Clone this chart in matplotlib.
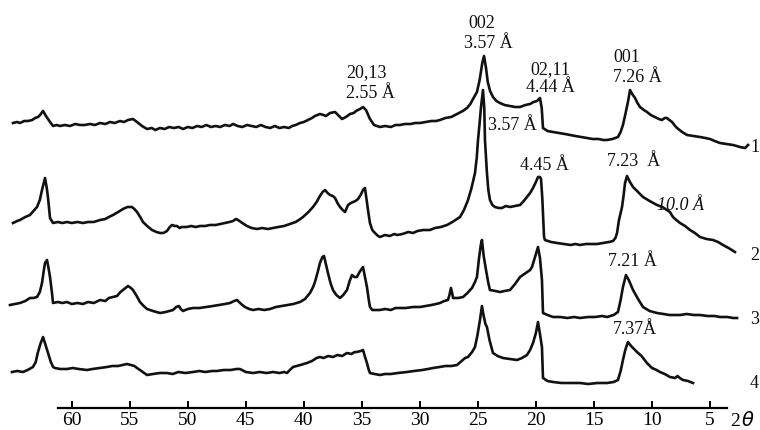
import matplotlib
matplotlib.use("Agg")
import matplotlib.pyplot as plt

# XRD patterns: 2theta (deg) and intensity (arbitrary units, traces already offset)
tt1 = [65.06, 64.7, 64.46, 64.1, 63.77, 63.4, 63.16, 62.9, 62.73, 62.47, 62.22, 61.87, 61.61, 61.3,
       61.01, 60.6, 60.15, 59.7, 59.29, 58.9, 58.42, 58.0, 57.56, 57.1, 56.70, 56.3, 55.84, 55.5,
       55.15, 54.72, 54.37, 53.94, 53.51, 53.1, 52.8, 52.4, 52.0, 51.6, 51.2, 50.8, 50.4, 50.0,
       49.6, 49.2, 48.8, 48.4, 48.0, 47.6, 47.2, 46.8, 46.4, 46.1, 45.7, 45.3, 44.9, 44.5, 44.1,
       43.7, 43.3, 42.9, 42.5, 42.1, 41.7, 41.3, 41.0, 40.7, 40.33, 40.0, 39.64, 39.3, 39.04,
       38.61, 38.3, 38.09, 37.74, 37.31, 37.05, 36.71, 36.37, 36.02, 35.7, 35.50, 35.16, 34.90,
       34.64, 34.30, 33.95, 33.44, 33.0, 32.5, 32.1, 31.71, 31.3, 30.8, 30.4, 29.99, 29.5, 29.0,
       28.6, 28.27, 27.8, 27.3, 26.80, 26.3, 25.94, 25.65, 25.42, 25.08, 24.85, 24.62, 24.47,
       24.3, 24.15, 23.95, 23.70, 23.4, 23.10, 22.7, 22.23, 21.8, 21.37, 20.9, 20.51, 20.2, 19.91,
       19.65, 19.5, 19.39, 19.0, 18.53, 18.0, 17.5, 17.06, 16.6, 16.1, 15.60, 15.1, 14.6, 14.2,
       13.87, 13.4, 12.93, 12.70, 12.50, 12.27, 12.07, 11.89, 11.7, 11.46, 11.25, 11.03, 10.7,
       10.43, 10.1, 9.74, 9.4, 9.14, 8.9, 8.71, 8.5, 8.27, 8.0, 7.84, 7.4, 6.98, 6.4, 5.86, 5.4,
       5.00, 4.6, 4.14, 3.6, 3.02, 2.7, 2.42, 1.98, 1.72]
i1 = [285, 286, 285, 287, 287, 288, 290, 291, 293, 297, 292, 286, 282, 283,
      282, 283, 282, 284, 283, 283, 284, 283, 285, 284, 286, 285, 287, 286,
      288, 289, 286, 282, 279, 280, 278, 280, 279, 281, 280, 281, 279, 281,
      280, 282, 281, 283, 281, 282, 281, 283, 282, 284, 282, 281, 283, 282, 281,
      283, 281, 280, 282, 280, 281, 280, 282, 283, 285, 286, 288, 290, 292,
      294, 293, 292, 295, 296, 293, 289, 291, 294, 295, 297, 299, 301,
      298, 289, 283, 281, 282, 281, 283, 283, 284, 284, 285, 285, 286, 287,
      287, 288, 290, 291, 294, 297, 300, 304, 309, 316, 328, 345, 352,
      340, 326, 317, 311, 307, 305, 303, 302, 301, 301, 303, 304, 306, 307,
      310, 300, 280, 277, 276, 275, 274, 273, 272, 271, 270, 269, 269, 268,
      268, 269, 271, 276, 283, 295, 306, 318, 314, 310, 305, 301, 298,
      296, 293, 291, 289, 288, 290, 290, 288, 286, 282, 280, 276, 273, 272, 271, 270,
      269, 267, 265, 264, 263, 262, 261, 260, 263]

tt2 = [65.06, 64.7, 64.46, 64.0, 63.60, 63.3, 62.99, 62.75, 62.56, 62.30, 62.15, 62.04, 61.87,
       61.61, 61.2, 60.8, 60.41, 60.0, 59.5, 59.03, 58.6, 58.1, 57.56, 57.1, 56.8, 56.44, 56.0,
       55.58, 55.2, 54.81, 54.6, 54.37, 54.1, 53.86, 53.5, 53.08, 52.7, 52.39, 52.1, 51.79, 51.55,
       51.36, 51.1, 50.93, 50.7, 50.50, 50.1, 49.7, 49.3, 48.95, 48.5, 48.1, 47.6, 47.22, 46.8,
       46.4, 46.10, 45.85, 45.67, 45.3, 44.90, 44.5, 44.03, 43.6, 43.1, 42.66, 42.2, 41.7, 41.19,
       40.7, 40.3, 40.07, 39.6, 39.21, 38.9, 38.61, 38.38, 38.17, 37.95, 37.74, 37.5, 37.31, 37.1,
       36.88, 36.65, 36.45, 36.3, 36.19, 35.95, 35.76, 35.55, 35.33, 35.1, 34.90, 34.73, 34.55,
       34.47, 34.30, 34.1, 33.87, 33.6, 33.44, 33.0, 32.6, 32.2, 31.97, 31.5, 31.0, 30.59, 30.2,
       29.7, 29.13, 28.7, 28.2, 27.66, 27.2, 26.8, 26.54, 26.2, 25.85, 25.55, 25.25, 25.1, 24.99,
       24.85, 24.73, 24.56, 24.45, 24.39, 24.30, 24.22, 24.10, 23.96, 23.75, 23.53, 23.2, 22.92,
       22.6, 22.23, 21.8, 21.37, 21.05, 20.77, 20.5, 20.25, 20.0, 19.82, 19.65, 19.56, 19.45,
       19.39, 19.30, 19.22, 18.7, 18.18, 17.6, 17.0, 16.6, 16.20, 15.7, 15.2, 14.74, 14.2, 13.7,
       13.36, 13.15, 13.01, 12.84, 12.70, 12.58, 12.45, 12.32, 12.15, 11.9, 11.63, 11.2, 10.77,
       10.2, 9.57, 9.1, 8.71, 8.45, 8.19, 7.9, 7.58, 7.15, 6.72, 6.3, 5.86, 5.3, 4.74, 4.3, 3.88,
       3.4, 2.85]
i2 = [185, 187, 188, 191, 193, 197, 201, 208, 218, 230, 220, 210, 190,
      185, 186, 185, 186, 185, 186, 185, 186, 186, 188, 189, 191, 193, 196,
      199, 201, 201, 199, 196, 191, 186, 182, 178, 176, 175, 175, 177, 181,
      183, 182, 182, 180, 181, 181, 182, 181, 182, 182, 183, 183, 184, 185,
      186, 187, 189, 188, 185, 182, 180, 179, 180, 179, 180, 181, 182, 184,
      186, 189, 191, 196, 201, 206, 212, 216, 218, 215, 213, 212, 210, 205,
      201, 198, 196, 200, 203, 205, 206, 207, 209, 213, 218, 220, 205,
      198, 185, 178, 175, 172, 171, 173, 172, 174, 173, 174, 176, 175, 177,
      178, 178, 180, 181, 183, 186, 189, 191, 198, 208, 220, 235, 250, 268,
      285, 301, 318, 300, 268, 250, 235, 218, 208, 203, 201, 200, 200,
      202, 201, 202, 203, 207, 211, 215, 220, 226, 231, 231, 229, 210,
      195, 171, 168, 166, 165, 164, 163, 164, 163, 164, 164, 164, 165, 166,
      167, 170, 175, 188, 195, 201, 212, 225, 232, 226, 221, 216, 211,
      207, 203, 201, 198, 196, 191, 188, 185, 182, 178, 175, 171, 169, 168, 166, 163,
      160, 156]

tt3 = [65.32, 64.9, 64.46, 64.0, 63.60, 63.3, 62.99, 62.75, 62.56, 62.40, 62.30, 62.13, 62.0,
       61.87, 61.7, 61.61, 61.2, 60.8, 60.41, 60.0, 59.5, 59.03, 58.6, 58.1, 57.56, 57.1, 56.8,
       56.44, 56.1, 55.8, 55.58, 55.15, 54.9, 54.72, 54.4, 54.12, 53.8, 53.51, 53.0, 52.39, 51.9,
       51.27, 51.0, 50.76, 50.6, 50.41, 50.0, 49.55, 49.0, 48.4, 47.83, 47.3, 46.8, 46.36, 46.0,
       45.76, 45.4, 45.07, 44.7, 44.38, 43.9, 43.4, 42.91, 42.4, 41.9, 41.45, 40.9, 40.33, 39.9,
       39.47, 39.2, 39.04, 38.8, 38.61, 38.4, 38.26, 38.1, 37.92, 37.7, 37.49, 37.2, 36.88, 36.6,
       36.28, 36.05, 35.85, 35.65, 35.42, 35.2, 34.90, 34.75, 34.56, 34.4, 34.30, 34.1, 33.87,
       33.44, 33.0, 32.5, 32.1, 31.71, 31.2, 30.6, 29.99, 29.5, 29.0, 28.6, 28.27, 27.9, 27.58,
       27.45, 27.32, 27.2, 27.14, 26.7, 26.28, 25.9, 25.51, 25.25, 25.08, 24.9, 24.75, 24.65,
       24.5, 24.30, 24.1, 23.96, 23.5, 23.10, 22.7, 22.23, 21.8, 21.37, 21.0, 20.77, 20.5, 20.34,
       20.1, 19.82, 19.65, 19.48, 19.39, 19.0, 18.53, 17.9, 17.3, 16.7, 16.20, 15.5, 14.9, 14.3,
       13.87, 13.3, 12.93, 12.70, 12.50, 12.35, 12.24, 12.0, 11.63, 11.2, 10.77, 10.2, 9.57, 9.0,
       8.5, 7.58, 7.0, 6.4, 5.86, 5.2, 4.6, 4.14, 3.5, 3.0, 2.67]
i3 = [103, 104, 105, 107, 110, 110, 111, 116, 125, 138, 145, 148, 140,
      131, 115, 105, 106, 105, 106, 104, 105, 104, 106, 105, 108, 107, 110,
      111, 112, 116, 118, 122, 120, 118, 112, 106, 102, 99, 97, 95, 96,
      98, 101, 102, 99, 97, 99, 100, 100, 101, 102, 103, 104, 105, 107,
      108, 104, 101, 99, 98, 99, 98, 99, 101, 102, 103, 104, 106, 109,
      115, 121, 126, 136, 145, 151, 152, 144, 135, 125, 118, 113, 110, 113,
      118, 127, 133, 131, 131, 136, 141, 132, 121, 108, 101, 98, 98,
      98, 99, 98, 100, 100, 100, 101, 101, 102, 103, 104, 105, 107, 108,
      113, 120, 114, 110, 110, 111, 115, 120, 126, 131, 150, 163, 168,
      152, 138, 125, 118, 117, 116, 117, 118, 124, 131, 134, 136, 138, 141,
      150, 161, 150, 128, 95, 93, 91, 91, 90, 91, 90, 91, 91, 92,
      91, 93, 96, 108, 121, 128, 133, 128, 118, 109, 101, 97, 95, 94,
      93, 93, 94, 93, 93, 92, 92, 91, 91, 90, 90]

tt4 = [65.15, 64.7, 64.20, 63.8, 63.34, 63.1, 62.93, 62.7, 62.47, 62.25, 62.04, 61.8, 61.6,
       61.44, 61.0, 60.41, 59.9, 59.4, 58.68, 58.2, 57.6, 56.96, 56.5, 56.0, 55.6, 55.24, 54.9,
       54.6, 54.37, 54.0, 53.51, 53.0, 52.4, 51.79, 51.3, 50.8, 50.2, 49.55, 49.0, 48.5, 47.9,
       47.48, 46.9, 46.3, 45.8, 45.50, 45.0, 44.38, 43.8, 43.2, 42.66, 42.1, 41.7, 41.45, 41.2,
       40.93, 40.6, 40.3, 39.73, 39.3, 38.9, 38.61, 38.3, 37.9, 37.49, 37.1, 36.7, 36.28, 35.9,
       35.6, 35.42, 35.1, 34.90, 34.75, 34.56, 34.40, 34.30, 33.9, 33.44, 33.0, 32.5, 31.9, 31.11,
       30.5, 29.8, 29.3, 28.87, 28.3, 27.8, 27.3, 26.80, 26.4, 26.1, 25.85, 25.5, 25.25, 25.05,
       24.82, 24.65, 24.5, 24.35, 24.22, 24.0, 23.70, 23.3, 22.84, 22.2, 21.63, 21.2, 20.77, 20.5,
       20.25, 20.0, 19.82, 19.65, 19.48, 19.39, 19.0, 18.53, 17.8, 17.0, 16.20, 15.5, 14.7, 13.87,
       13.3, 12.93, 12.70, 12.50, 12.30, 12.07, 11.8, 11.29, 10.9, 10.43, 10.0, 9.6, 9.31, 8.9,
       8.45, 8.0, 7.8, 7.6, 7.33, 6.9, 6.46]
i4 = [36, 37, 36, 38, 41, 46, 55, 64, 71, 63, 55, 46, 41,
      40, 39, 39, 40, 39, 38, 39, 40, 41, 42, 42, 43, 44, 43,
      42, 40, 37, 33, 34, 35, 35, 34, 36, 35, 36, 37, 36, 37,
      37, 38, 38, 39, 39, 36, 35, 36, 35, 36, 35, 36, 35, 38,
      41, 42, 43, 45, 47, 50, 51, 50, 52, 51, 53, 52, 55, 54,
      56, 56, 57, 58, 52, 45, 38, 35, 34, 33, 34, 34, 35, 36,
      37, 38, 39, 40, 41, 42, 42, 43, 47, 50, 51, 56, 61, 72,
      88, 102, 92, 84, 81, 68, 55, 52, 50, 49, 48, 50, 53, 58,
      65, 75, 86, 74, 61, 30, 27, 26, 25, 25, 25, 24, 25, 25,
      26, 28, 37, 48, 58, 66, 62, 56, 52, 45, 40, 38, 36, 34,
      31, 30, 32, 30, 28, 27, 25]

xticks = [60, 55, 50, 45, 40, 35, 30, 25, 20, 15, 10, 5]

fig = plt.figure(figsize=(7.6, 4.3), dpi=100)
ax = fig.add_axes([0, 22 / 430, 1, 408 / 430])

for tt, ii in [(tt1, i1), (tt2, i2), (tt3, i3), (tt4, i4)]:
    ax.plot(tt, ii, color="#111111", lw=1.9, solid_joinstyle="round")

ax.set_xlim(66.18, 0.69)
ax.set_ylim(0, 408)
for s in ["top", "left", "right"]:
    ax.spines[s].set_visible(False)
ax.spines["bottom"].set_bounds(61.2, 3.5)
ax.spines["bottom"].set_linewidth(1.6)
ax.set_yticks([])
ax.set_xticks(xticks)
ax.set_xticklabels([str(t) for t in xticks], family="Liberation Serif", fontsize=14)
ax.tick_params(axis="x", direction="in", length=5, width=1.4, pad=3)
ax.text(2.84, -13, "2", family="Liberation Serif", fontsize=14, ha="center", va="center", clip_on=False)
ax.text(1.72, -13, r"$\theta$", fontsize=14, ha="center", va="center", clip_on=False)

fnt = dict(family="Liberation Serif", fontsize=13, color="#111111")
# peak labels, trace 1
ax.text(24.65, 385, "002", ha="center", va="center", **fnt)
ax.text(24.13, 365, "3.57 Å", ha="center", va="center", **fnt)
ax.text(34.56, 335, "20,13", ha="center", va="center", **fnt)
ax.text(34.30, 314, "2.55 Å", ha="center", va="center", **fnt)
ax.text(18.79, 338, "02,11", ha="center", va="center", **fnt)
ax.text(18.79, 320, "4.44 Å", ha="center", va="center", **fnt)
ax.text(12.15, 351, "001", ha="center", va="center", **fnt)
ax.text(11.29, 330, "7.26 Å", ha="center", va="center", **fnt)
# trace 2
ax.text(24.13, 283, "3.57 Å", ha="left", va="center", **fnt)
ax.text(21.37, 243, "4.45 Å", ha="left", va="center", **fnt)
ax.text(13.87, 246, "7.23  Å", ha="left", va="center", **fnt)
ax.text(9.57, 203, "10.0 Å", ha="left", va="center", style="italic", **fnt)
# traces 3, 4
ax.text(13.79, 146, "7.21 Å", ha="left", va="center", **fnt)
ax.text(13.36, 78, "7.37Å", ha="left", va="center", **fnt)

for lab, y in zip(["1", "2", "3", "4"], [261, 153, 88, 25]):
    ax.text(1.55, y, lab, ha="left", va="center", clip_on=False, **fnt)

fig.savefig("out.png", dpi=100)
